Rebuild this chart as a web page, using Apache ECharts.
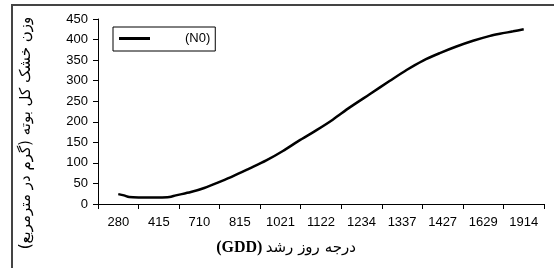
<!DOCTYPE html>
<html>
<head>
<meta charset="utf-8">
<script src="https://cdn.jsdelivr.net/npm/echarts@6/dist/echarts.min.js"></script>
<style>
html, body { margin: 0; padding: 0; background: #fff; }
#chart { width: 554px; height: 268px; }
</style>
</head>
<body>
<div id="chart"></div>
<script>
// GDD tick labels
var gddLabels = ['280', '415', '710', '815', '1021', '1122', '1234', '1337', '1427', '1629', '1914'];
// curve position measured in category steps (0 = first label)
var curvePos = [0, 0.14, 0.27, 0.5, 0.75, 1.0, 1.26, 1.42, 1.79, 2.12, 2.53, 2.82, 3.23, 3.65, 4.06, 4.44,
	4.88, 5.29, 5.71, 6.2, 6.69, 7.11, 7.52, 7.93, 8.34, 8.75, 9.17, 9.41, 9.74, 10];
var dryWeight = [24, 21, 17, 16, 16, 16, 17, 21, 29, 39, 55, 67, 86, 106, 129, 153,
	179, 205, 235, 267, 299, 326, 349, 367, 383, 397, 409, 414, 420, 425];
var yTicks = [0, 450, 50];

var myChart = echarts.init(document.getElementById('chart'), null, { renderer: 'canvas' });

var lineData = curvePos.map(function(p, i) {
	return [p, dryWeight[i]];
});

var option = {
	backgroundColor: '#fff',
	animation: false,
	grid: {
		left: 98,
		right: 10,
		top: 19,
		bottom: 64
	},
	legend: {
		left: 113,
		top: 27,
		orient: 'horizontal',
		itemWidth: 31,
		itemHeight: 3,
		padding: [5, 5, 6, 6],
		borderColor: '#000',
		borderWidth: 1,
		borderRadius: 0,
		textStyle: {
			color: '#000',
			fontFamily: 'Liberation Sans',
			fontSize: 13,
			padding: [0, 0, 0, 30]
		},
		data: [{ name: '(N0)', icon: 'rect' }]
	},
	xAxis: [{
		type: 'category',
		data: gddLabels,
		boundaryGap: true,
		axisLine: { lineStyle: { color: '#000', width: 1 } },
		axisTick: { show: true, length: 5, alignWithLabel: false, lineStyle: { color: '#000' } },
		axisLabel: {
			color: '#000',
			fontFamily: 'Liberation Sans',
			fontSize: 13,
			margin: 12,
			interval: 0
		},
		splitLine: { show: false }
	}, {
		type: 'value',
		min: -0.5,
		max: 10.5,
		show: false
	}],
	yAxis: {
		type: 'value',
		min: yTicks[0],
		max: yTicks[1],
		interval: yTicks[2],
		axisLine: { show: true, onZero: false, lineStyle: { color: '#000', width: 1 } },
		axisTick: { show: true, length: 5, lineStyle: { color: '#000' } },
		axisLabel: {
			color: '#000',
			fontFamily: 'Liberation Sans',
			fontSize: 13,
			margin: 10
		},
		splitLine: { show: false }
	},
	graphic: [{
		type: 'rect',
		shape: { x: 12, y: 5, width: 620, height: 320 },
		style: { fill: 'none', stroke: '#444', lineWidth: 2 },
		silent: true
	}, {
		type: 'text',
		x: 26,
		y: 133,
		rotation: Math.PI / 2,
		style: {
			text: 'وزن خشک کل بوته (گرم در مترمربع)\u200F',
			fontFamily: 'DejaVu Sans',
			fontSize: 15,
			fill: '#000',
			align: 'center',
			verticalAlign: 'middle'
		}
	}, {
		type: 'text',
		x: 286,
		y: 248,
		style: {
			text: '{g|(GDD)} {a|درجه روز رشد}',
			align: 'center',
			verticalAlign: 'middle',
			rich: {
				g: { fontFamily: 'Liberation Serif', fontWeight: 'bold', fontSize: 16, fill: '#000' },
				a: { fontFamily: 'DejaVu Sans', fontSize: 15, fill: '#000' }
			}
		}
	}],
	series: [{
		name: '(N0)',
		type: 'line',
		xAxisIndex: 1,
		symbol: 'none',
		smooth: 0.3,
		data: lineData,
		lineStyle: { color: '#000', width: 2.5 },
		itemStyle: { color: '#000' }
	}]
};

myChart.setOption(option);
</script>
</body>
</html>
